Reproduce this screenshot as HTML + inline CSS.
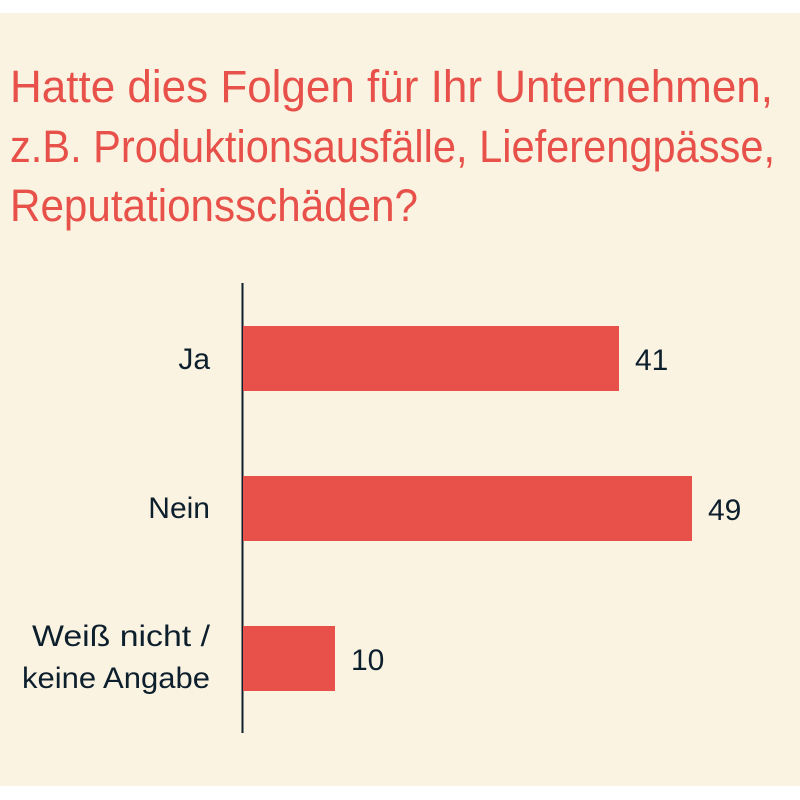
<!DOCTYPE html>
<html><head><meta charset="utf-8"><style>
html,body{margin:0;padding:0;background:#fff;}
svg{display:block;}
</style></head><body>
<svg width="800" height="800" xmlns="http://www.w3.org/2000/svg">
<rect x="0" y="13" width="800" height="773" fill="#faf3e1"/>
<g font-family="Liberation Sans, sans-serif" fill="#e8504a" font-size="45">
<text x="10" y="102" textLength="763" lengthAdjust="spacingAndGlyphs">Hatte dies Folgen für Ihr Unternehmen,</text>
<text x="10" y="162" textLength="765" lengthAdjust="spacingAndGlyphs">z.B. Produktionsausfälle, Lieferengpässe,</text>
<text x="10" y="221" textLength="408" lengthAdjust="spacingAndGlyphs">Reputationsschäden?</text>
</g>
<line x1="242.5" y1="283" x2="242.5" y2="733" stroke="#0d1f2d" stroke-width="2"/>
<rect x="243" y="326" width="376" height="65" fill="#e8514a"/>
<rect x="243" y="476" width="449" height="65" fill="#e8514a"/>
<rect x="243" y="626" width="92" height="65" fill="#e8514a"/>
<g font-family="Liberation Sans, sans-serif" fill="#0d1f2d" font-size="30">
<text x="210" y="369" text-anchor="end">Ja</text>
<text x="210" y="518" text-anchor="end">Nein</text>
<text x="210" y="646" text-anchor="end" textLength="178" lengthAdjust="spacingAndGlyphs">Weiß nicht /</text>
<text x="210" y="688" text-anchor="end" textLength="188" lengthAdjust="spacingAndGlyphs">keine Angabe</text>
<text x="635" y="370">41</text>
<text x="708" y="520">49</text>
<text x="351" y="670">10</text>
</g>
</svg>
</body></html>
